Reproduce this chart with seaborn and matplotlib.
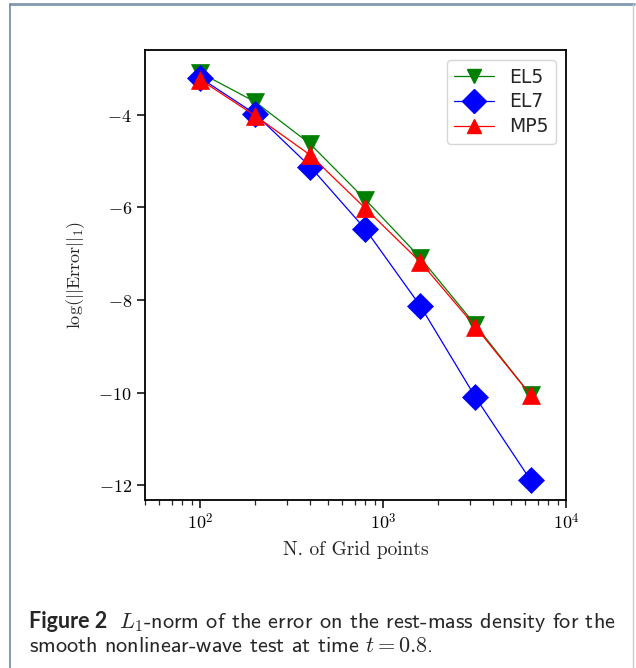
import numpy as np
import pandas as pd
import matplotlib
matplotlib.use("Agg")
import matplotlib.pyplot as plt
import seaborn as sns
from matplotlib.lines import Line2D
from matplotlib.ticker import LogLocator, NullFormatter, FixedFormatter, FuncFormatter

# ---- data ----
grid_points = [100, 200, 400, 800, 1600, 3200, 6400]
el5 = [-3.09, -3.72, -4.63, -5.83, -7.09, -8.54, -10.05]
el7 = [-3.20, -3.98, -5.12, -6.47, -8.13, -10.10, -11.89]
mp5 = [-3.24, -4.02, -4.87, -6.02, -7.18, -8.58, -10.05]
series_names = ["EL5", "EL7", "MP5"]
y_ticks = [-4, -6, -8, -10, -12]

sns.set_style("ticks")
plt.rcParams["mathtext.fontset"] = "cm"
plt.rcParams["font.family"] = ["DejaVu Sans"]

W, H = 636, 668
fig = plt.figure(figsize=(W / 100, H / 100), dpi=100)
ax = fig.add_axes([145 / W, 1 - 500 / H, (566 - 145) / W, (500 - 50) / H])

df = pd.DataFrame({
    "N": grid_points * 3,
    "err": el5 + el7 + mp5,
    "scheme": sum([[n] * len(grid_points) for n in series_names], []),
})

styles = {"EL5": ("green", "v", 12.5), "EL7": ("blue", "D", 13), "MP5": ("red", "^", 12.5)}
for name in series_names:
    c, m, ms = styles[name]
    sub = df[df.scheme == name]
    sns.lineplot(data=sub, x="N", y="err", ax=ax, color=c, marker=m,
                 markersize=ms, markeredgecolor=c, markeredgewidth=0.5,
                 linewidth=0.9, label=name, legend=False)

ax.set_xscale("log")
ax.set_xlim(50, 10000)
ax.set_ylim(-12.32, -2.6)
ax.set_yticks(y_ticks)
ax.yaxis.set_major_formatter(FixedFormatter([r"$%d$" % v for v in y_ticks]))
ax.xaxis.set_major_locator(LogLocator(base=10))
ax.xaxis.set_major_formatter(FuncFormatter(lambda v, p: r"$10^{%d}$" % round(np.log10(v))))
ax.xaxis.set_minor_locator(LogLocator(base=10, subs=np.arange(2, 10)))
ax.xaxis.set_minor_formatter(NullFormatter())
for s in ax.spines.values():
    s.set_linewidth(1.3)
    s.set_color("black")
ax.tick_params(which="major", length=6, width=1.1, labelsize=13, colors="black", pad=3.5)
ax.tick_params(which="minor", length=3.5, width=0.9)
ax.set_xlabel("N. of Grid points", family="cmr10", fontsize=14, labelpad=5)
ax.set_ylabel(r"$\log(||\mathrm{Error}||_1)$", fontsize=13, labelpad=8)

leg_ms = {"EL5": 10.5, "EL7": 12.5, "MP5": 10.5}
handles = [Line2D([], [], color=styles[n][0], marker=styles[n][1],
                  markersize=leg_ms[n], linewidth=0.9) for n in series_names]
leg = ax.legend(handles, series_names, loc="upper right", fontsize=13.5,
                handlelength=2.1, handletextpad=0.8, frameon=True,
                borderaxespad=0.55, labelspacing=0.3)
leg.get_frame().set_edgecolor("#cccccc")
leg.get_frame().set_linewidth(1.0)

# frame around the figure
fig.add_artist(Line2D([10 / W, 634 / W], [1 - 4 / H, 1 - 4 / H], transform=fig.transFigure,
                      color="#8298b0", linewidth=2))
fig.add_artist(Line2D([10 / W, 10 / W], [0, 1 - 4 / H], transform=fig.transFigure,
                      color="#6f88a8", linewidth=1.2))
fig.add_artist(Line2D([633 / W, 633 / W], [0, 1 - 4 / H], transform=fig.transFigure,
                      color="#c8ccd0", linewidth=1.0))

# caption
cap_font = ["cmss10", "DejaVu Sans"]
y1, y2 = 1 - 622 / H, 1 - 646 / H
t1 = fig.text(29 / W, y1, "Figure 2", fontsize=15.5, fontweight="bold",
              family=["Lato", "DejaVu Sans"], va="center", ha="left")
fig.canvas.draw()
bb = t1.get_window_extent()
fig.text((bb.x1 + 12) / W, y1,
         r"$L_1$-norm of the error on the rest-mass density for the",
         fontsize=16, family=cap_font, va="center", ha="left")
fig.text(29 / W, y2,
         r"smooth nonlinear-wave test at time $t = 0.8$.",
         fontsize=16, family=cap_font, va="center", ha="left")

fig.savefig("out.png", dpi=100)
